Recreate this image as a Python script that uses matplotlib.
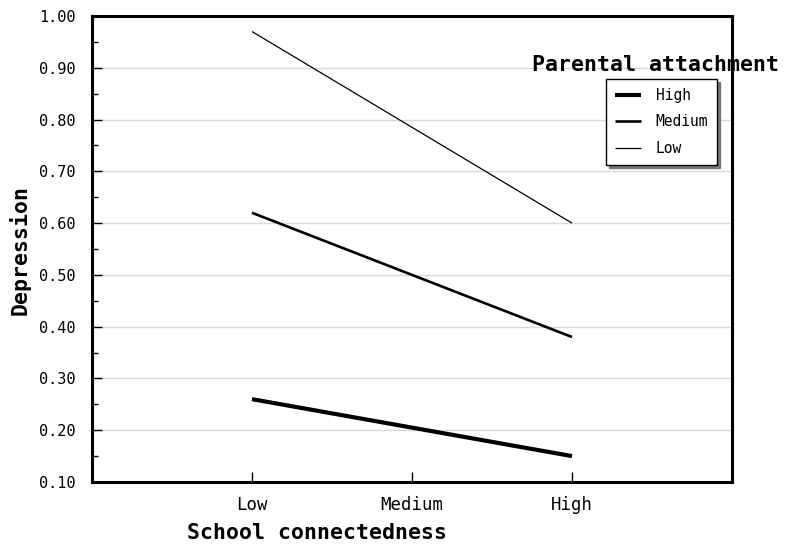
import matplotlib

matplotlib.use("Agg")
import matplotlib.pyplot as plt
from matplotlib.ticker import MultipleLocator

CATEGORIES = ["Low", "Medium", "High"]
HIGH_ATTACH = [0.26, 0.205, 0.15]
MEDIUM_ATTACH = [0.62, 0.50, 0.38]
LOW_ATTACH = [0.97, 0.785, 0.60]

SERIES = [
    ("High", HIGH_ATTACH, 3.0),
    ("Medium", MEDIUM_ATTACH, 1.9),
    ("Low", LOW_ATTACH, 0.9),
]

MONO = "DejaVu Sans Mono"


def main() -> None:
    fig = plt.figure(figsize=(7.89, 5.45), dpi=100)
    ax = fig.add_axes([92 / 789, 1 - 482 / 545, (732 - 92) / 789, (482 - 16) / 545])
    xs = list(range(1, len(CATEGORIES) + 1))
    for label, vals, lw in SERIES:
        ax.plot(xs, vals, color="black", linewidth=lw, label=label, solid_capstyle="butt")

    ax.set_xlim(0, 4)
    ax.set_ylim(0.10, 1.00)
    ax.set_xticks(xs)
    ax.set_xticklabels(CATEGORIES, family=MONO, fontsize=12.5)
    ax.yaxis.set_major_locator(MultipleLocator(0.1))
    ax.yaxis.set_minor_locator(MultipleLocator(0.05))
    ax.set_yticklabels([f"{v:.2f}" for v in ax.get_yticks()], family=MONO, fontsize=11)
    ax.tick_params(axis="y", which="major", direction="in", length=7, width=1, pad=12)
    ax.tick_params(axis="y", which="minor", direction="in", length=4, width=1)
    ax.tick_params(axis="x", which="major", direction="in", length=7, width=1, pad=10)
    ax.grid(axis="y", color="#d9d9d9", linewidth=1)
    ax.set_axisbelow(True)
    for spine in ax.spines.values():
        spine.set_linewidth(2.2)

    fig.text(187 / 789, 1 - 533 / 545, "School connectedness", family=MONO,
             fontweight="bold", fontsize=15.5, ha="left", va="center")
    fig.text(20 / 789, 1 - 250 / 545, "Depression", family=MONO, fontweight="bold",
             fontsize=15.5, rotation=90, ha="center", va="center")
    fig.text(655 / 789, 1 - 65 / 545, "Parental attachment", family=MONO,
             fontweight="bold", fontsize=15.5, ha="center", va="center")

    leg = ax.legend(loc="upper left", bbox_to_anchor=(606 / 789, 1 - 79 / 545),
                    bbox_transform=fig.transFigure,
                    prop={"family": MONO, "size": 10.5}, frameon=True, fancybox=False,
                    shadow={"color": "#777777", "alpha": 1}, handlelength=1.8,
                    handletextpad=1.0, borderpad=0.6, labelspacing=0.8, borderaxespad=0)
    leg.get_frame().set_edgecolor("black")
    leg.get_frame().set_linewidth(1)
    leg.get_frame().set_alpha(1)

    fig.savefig("out.png", dpi=100)


if __name__ == "__main__":
    main()
